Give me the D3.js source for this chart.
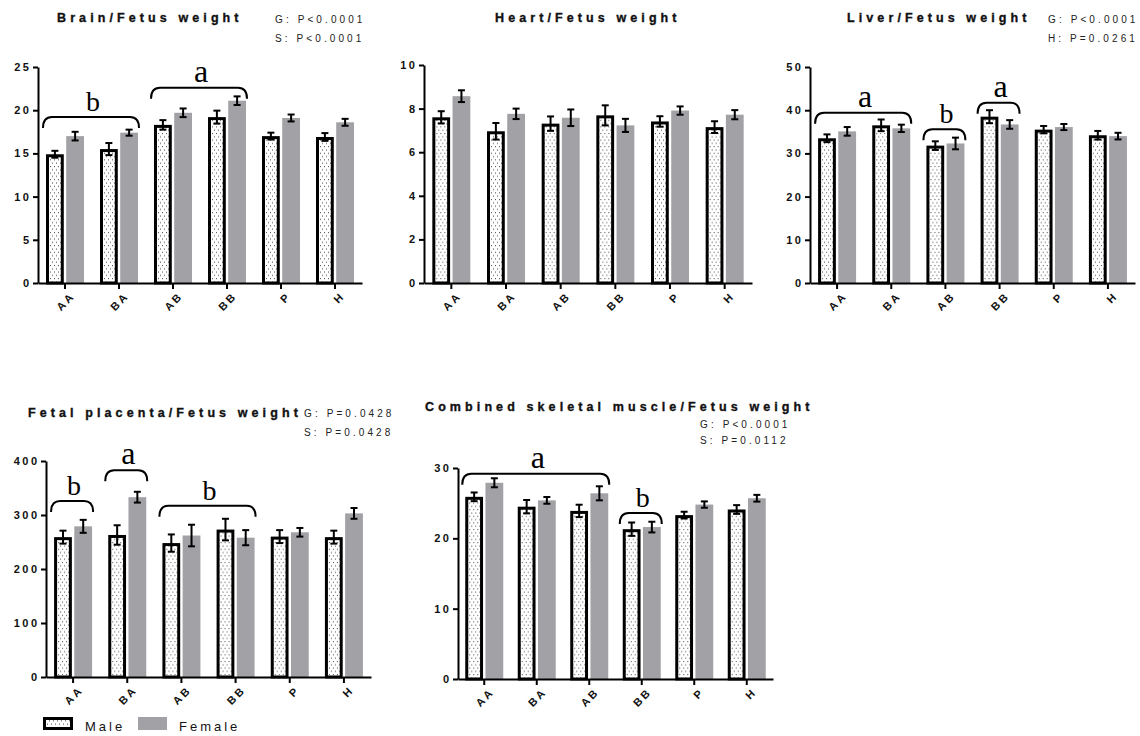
<!DOCTYPE html>
<html>
<head>
<meta charset="utf-8">
<script src="https://cdn.jsdelivr.net/npm/d3@7"></script>
<style>
body { margin: 0; background: #fff; }
svg { display: block; font-family: "Liberation Sans", Arial, sans-serif; }
.domain, .tick line { stroke: #000; stroke-width: 2; }
.title { font-weight: bold; font-size: 12.5px; letter-spacing: 4.1px; fill: #111; stroke: #111; stroke-width: 0.35px; }
.stat { font-size: 10px; letter-spacing: 3.1px; fill: #222; }
.letter { font-family: "Liberation Serif", "Times New Roman", serif; fill: #000; }
.legend text { font-size: 13px; letter-spacing: 3px; fill: #111; }
</style>
</head>
<body>
<svg width="1140" height="736"></svg>
<script>
"use strict";

var categories = ["AA", "BA", "AB", "BB", "P", "H"];
var sexes = ["Male", "Female"];

// Brain/Fetus weight
var brainMale = [14.9, 15.5, 18.3, 19.2, 17.0, 16.9];
var brainMaleErr = [0.4, 0.7, 0.55, 0.75, 0.4, 0.45];
var brainFemale = [17.0, 17.4, 19.7, 21.1, 19.1, 18.6];
var brainFemaleErr = [0.5, 0.35, 0.5, 0.5, 0.4, 0.4];
var brainStats = ["G: P<0.0001", "S: P<0.0001"];
var brainBrackets = [["AA", "BA", 19.2, "b"], ["AB", "BB", 22.6, "a"]];

// Heart/Fetus weight
var heartMale = [7.6, 6.96, 7.31, 7.69, 7.41, 7.15];
var heartMaleErr = [0.28, 0.38, 0.33, 0.46, 0.24, 0.27];
var heartFemale = [8.57, 7.76, 7.58, 7.23, 7.91, 7.72];
var heartFemaleErr = [0.27, 0.24, 0.38, 0.3, 0.19, 0.21];
var heartStats = [];
var heartBrackets = [];

// Liver/Fetus weight
var liverMale = [33.5, 36.5, 31.8, 38.5, 35.5, 34.2];
var liverMaleErr = [0.9, 1.35, 1.0, 1.5, 0.85, 1.0];
var liverFemale = [35.1, 35.8, 32.3, 36.7, 36.1, 34.0];
var liverFemaleErr = [1.0, 0.85, 1.35, 1.0, 0.7, 0.77];
var liverStats = ["G: P<0.0001", "H: P=0.0261"];
var liverBrackets = [["AA", "BA", 39.4, "a"], ["AB", "AB", 35.6, "b"], ["BB", "BB", 41.7, "a"]];

// Fetal placenta/Fetus weight
var placentaMale = [259, 263, 248, 273, 260, 259];
var placentaMaleErr = [12, 18, 16, 20, 12, 12];
var placentaFemale = [279, 333, 262, 258, 268, 303];
var placentaFemaleErr = [12, 10, 20, 14, 8, 10];
var placentaStats = ["G: P=0.0428", "S: P=0.0428"];
var placentaBrackets = [["AA", "AA", 326, "b"], ["BA", "BA", 383, "a"], ["AB", "BB", 317, "b"]];

// Combined skeletal muscle/Fetus weight
var muscleMale = [25.9, 24.5, 23.9, 21.3, 23.3, 24.1];
var muscleMaleErr = [0.62, 0.95, 0.88, 0.95, 0.48, 0.62];
var muscleFemale = [27.9, 25.4, 26.4, 21.6, 24.8, 25.7];
var muscleFemaleErr = [0.64, 0.48, 1.0, 0.76, 0.45, 0.48];
var muscleStats = ["G: P<0.0001", "S: P=0.0112"];
var muscleBrackets = [["AA", "AB", 29.2, "a"], ["BB", "BB", 23.6, "b"]];

var svg = d3.select("svg");

var femaleColour = "#a2a1a6";

var defs = svg.append("defs");
var dots = defs.append("pattern")
    .attr("id", "dots")
    .attr("patternUnits", "userSpaceOnUse")
    .attr("width", 4).attr("height", 6.6);
dots.append("rect").attr("width", 4).attr("height", 6.6).attr("fill", "#fff");
dots.append("rect").attr("x", 1).attr("y", 1).attr("width", 1).attr("height", 1).attr("fill", "#444");
dots.append("rect").attr("x", 3).attr("y", 4.3).attr("width", 1).attr("height", 1).attr("fill", "#444");

function styleTicks(sel) {
  sel.attr("font-family", "'Liberation Sans', Arial, sans-serif")
    .attr("font-size", 11)
    .attr("font-weight", "bold")
    .attr("letter-spacing", "2.5px")
    .attr("fill", "#111");
}

function drawPanel(p, f) {
  var g = svg.append("g");

  var x = d3.scaleBand().domain(categories).range([f.x0, f.x1]);
  var xs = d3.scaleBand().domain(sexes).range([-19, 19]).paddingInner(0.12);
  var y = d3.scaleLinear().domain([0, p.yMax]).range([f.y0, f.yTop]);

  var rows = categories.map(function(c, i) {
    return {cat: c, values: [
      {sex: "Male", v: p.male[i], e: p.maleErr[i]},
      {sex: "Female", v: p.female[i], e: p.femaleErr[i]}
    ]};
  });

  var group = g.selectAll(".grp")
    .data(rows)
    .enter().append("g")
      .attr("class", "grp")
      .attr("transform", function(d) { return "translate(" + (x(d.cat) + x.bandwidth() / 2) + ",0)"; });

  group.selectAll("rect")
    .data(function(d) { return d.values; })
    .enter().append("rect")
      .attr("x", function(d) { return d.sex == "Male" ? xs(d.sex) + 1.5 : xs(d.sex); })
      .attr("width", function(d) { return d.sex == "Male" ? xs.bandwidth() - 3 : xs.bandwidth(); })
      .attr("y", function(d) { return d.sex == "Male" ? y(d.v) + 1.5 : y(d.v); })
      .attr("height", function(d) { return d.sex == "Male" ? f.y0 - y(d.v) - 1.5 : f.y0 - y(d.v); })
      .attr("fill", function(d) { return d.sex == "Male" ? "url(#dots)" : femaleColour; })
      .attr("stroke", function(d) { return d.sex == "Male" ? "#000" : "none"; })
      .attr("stroke-width", 3);

  var err = group.selectAll(".err")
    .data(function(d) { return d.values; })
    .enter().append("g")
      .attr("class", "err")
      .attr("transform", function(d) { return "translate(" + (xs(d.sex) + xs.bandwidth() / 2) + ",0)"; })
      .attr("stroke", "#000")
      .attr("stroke-width", 2);
  err.append("line")
    .attr("y1", function(d) { return y(d.v - d.e); })
    .attr("y2", function(d) { return y(d.v + d.e); });
  err.append("line")
    .attr("x1", -3.5).attr("x2", 3.5)
    .attr("y1", function(d) { return y(d.v + d.e); })
    .attr("y2", function(d) { return y(d.v + d.e); });
  err.append("line")
    .attr("x1", -3.5).attr("x2", 3.5)
    .attr("y1", function(d) { return y(d.v - d.e); })
    .attr("y2", function(d) { return y(d.v - d.e); });

  // axes
  var ya = g.append("g")
    .attr("transform", "translate(" + f.x0 + ",0)")
    .call(d3.axisLeft(y).tickValues(d3.range(0, p.yMax + 0.001, p.yStep)).tickSize(5).tickPadding(4).tickSizeOuter(0));
  ya.selectAll("text").call(styleTicks).attr("dx", "2.5px");

  var xa = g.append("g")
    .attr("transform", "translate(0," + f.y0 + ")")
    .call(d3.axisBottom(x).tickSize(6).tickSizeOuter(0));
  xa.selectAll("text").call(styleTicks)
    .attr("text-anchor", "end")
    .attr("dy", "0.35em")
    .attr("transform", "translate(8,11) rotate(-45)")
    .attr("y", 0).attr("x", 0);

  // title and stats
  g.append("text").attr("class", "title")
    .attr("x", f.titleX).attr("y", f.titleY)
    .text(p.title);
  g.selectAll(".stat")
    .data(p.stats)
    .enter().append("text")
      .attr("class", "stat")
      .attr("x", f.statsX)
      .attr("y", function(d, i) { return f.statsY + i * f.statsGap; })
      .text(function(d) { return d; });

  // significance brackets
  var br = g.selectAll(".bracket")
    .data(p.brackets)
    .enter().append("g")
      .attr("class", "bracket");
  br.append("path")
    .attr("fill", "none").attr("stroke", "#000").attr("stroke-width", 2)
    .attr("d", function(d) {
      var x1 = x(d[0]) + x.bandwidth() / 2 - 22,
          x2 = x(d[1]) + x.bandwidth() / 2 + 20,
          yb = y(d[2]);
      return "M" + x1 + "," + (yb + 11) + "Q" + x1 + "," + yb + " " + (x1 + 9) + "," + yb +
             "L" + (x2 - 9) + "," + yb + "Q" + x2 + "," + yb + " " + x2 + "," + (yb + 11);
    });
  br.append("text").attr("class", "letter")
    .attr("text-anchor", "middle")
    .attr("font-size", function(d) { return d[3] == "a" ? 32 : 28; })
    .attr("x", function(d) { return (x(d[0]) + x(d[1]) + x.bandwidth()) / 2 + 1; })
    .attr("y", function(d) { return y(d[2]) - 6; })
    .text(function(d) { return d[3]; });
}

drawPanel({title: "Brain/Fetus weight", stats: brainStats, male: brainMale, maleErr: brainMaleErr,
  female: brainFemale, femaleErr: brainFemaleErr, brackets: brainBrackets, yMax: 25, yStep: 5},
  {x0: 38, x1: 362, y0: 283, yTop: 67, titleX: 57, titleY: 22, statsX: 275, statsY: 23, statsGap: 19});

drawPanel({title: "Heart/Fetus weight", stats: heartStats, male: heartMale, maleErr: heartMaleErr,
  female: heartFemale, femaleErr: heartFemaleErr, brackets: heartBrackets, yMax: 10, yStep: 2},
  {x0: 424, x1: 752, y0: 283, yTop: 65, titleX: 495, titleY: 22, statsX: 0, statsY: 0, statsGap: 19});

drawPanel({title: "Liver/Fetus weight", stats: liverStats, male: liverMale, maleErr: liverMaleErr,
  female: liverFemale, femaleErr: liverFemaleErr, brackets: liverBrackets, yMax: 50, yStep: 10},
  {x0: 810, x1: 1135, y0: 283, yTop: 67, titleX: 847, titleY: 22, statsX: 1048, statsY: 23, statsGap: 19});

drawPanel({title: "Fetal placenta/Fetus weight", stats: placentaStats, male: placentaMale, maleErr: placentaMaleErr,
  female: placentaFemale, femaleErr: placentaFemaleErr, brackets: placentaBrackets, yMax: 400, yStep: 100},
  {x0: 46, x1: 371, y0: 677, yTop: 461, titleX: 28, titleY: 417, statsX: 304, statsY: 417, statsGap: 19});

drawPanel({title: "Combined skeletal muscle/Fetus weight", stats: muscleStats, male: muscleMale, maleErr: muscleMaleErr,
  female: muscleFemale, femaleErr: muscleFemaleErr, brackets: muscleBrackets, yMax: 30, yStep: 10},
  {x0: 458, x1: 773, y0: 679, yTop: 468, titleX: 425, titleY: 411, statsX: 700, statsY: 428, statsGap: 16});

// legend
var legend = svg.append("g").attr("class", "legend");
legend.append("rect")
  .attr("x", 44.5).attr("y", 718.5).attr("width", 27).attr("height", 10)
  .attr("fill", "url(#dots)").attr("stroke", "#000").attr("stroke-width", 3);
legend.append("text").attr("x", 85).attr("y", 731).text(sexes[0]);
legend.append("rect")
  .attr("x", 138).attr("y", 717).attr("width", 29).attr("height", 13)
  .attr("fill", femaleColour);
legend.append("text").attr("x", 179).attr("y", 731).text(sexes[1]);
</script>
</body>
</html>
